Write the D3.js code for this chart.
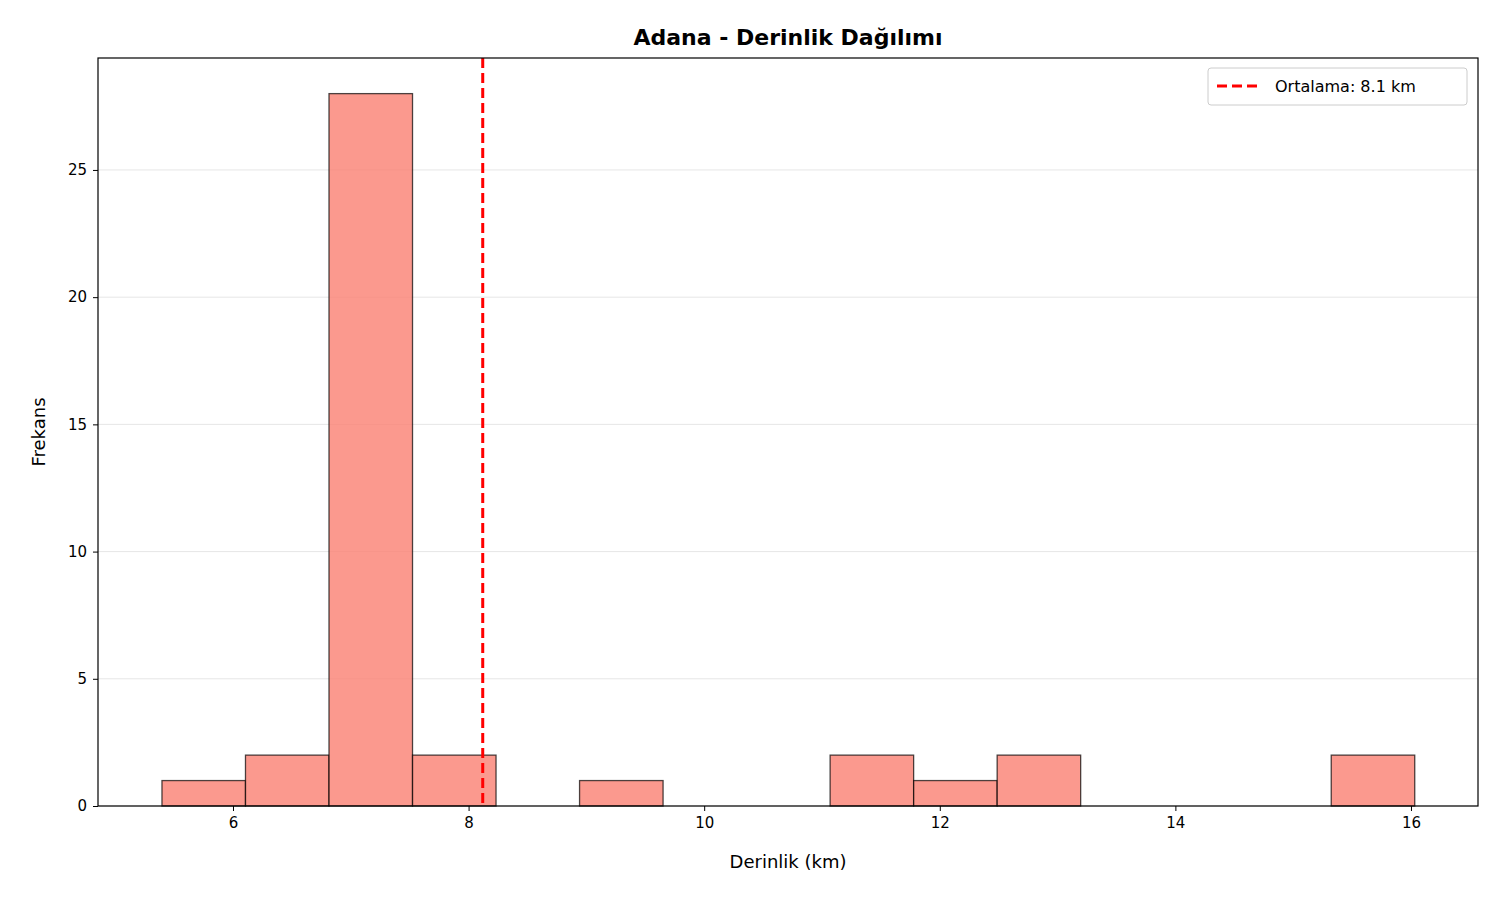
<!DOCTYPE html>
<html><head><meta charset="utf-8">
<script src="https://cdn.jsdelivr.net/npm/d3@7"></script>
<style>body{margin:0;background:#fff}text{font-family:"DejaVu Sans",sans-serif}</style>
</head><body><svg id="c" width="1500" height="900"></svg>
<script>
const binStart = 5.397, binWidth = 0.709;
const counts = [1,2,28,2,0,1,0,0,2,1,2,0,0,0,2];
const meanDepth = 8.12;
const xTicks = [6,8,10,12,14,16];
const yTicks = [0,5,10,15,20,25];

const svg = d3.select("#c");
const L=98,R=1478,T=58,B=806;
const x = d3.scaleLinear().domain([4.854,16.569]).range([L,R]);
const y = d3.scaleLinear().domain([0,29.4]).range([B,T]);

svg.append("g").selectAll("line").data(yTicks).join("line")
  .attr("x1",L).attr("x2",R).attr("y1",d=>y(d)).attr("y2",d=>y(d))
  .attr("stroke","#000").attr("stroke-opacity",0.1).attr("stroke-width",1);

svg.append("g").selectAll("rect").data(counts).join("rect")
  .attr("x",(d,i)=>x(binStart+i*binWidth))
  .attr("width",(d,i)=>x(binStart+(i+1)*binWidth)-x(binStart+i*binWidth))
  .attr("y",d=>y(d)).attr("height",d=>y(0)-y(d))
  .attr("fill","#FA8072").attr("fill-opacity",0.8)
  .attr("stroke","#000").attr("stroke-opacity",0.7).attr("stroke-width",1.3);

svg.append("line").attr("x1",x(meanDepth)).attr("x2",x(meanDepth)).attr("y1",T).attr("y2",B)
  .attr("stroke","red").attr("stroke-width",3).attr("stroke-dasharray","10,5");

const xa = svg.append("g").attr("transform",`translate(0,${B})`).call(d3.axisBottom(x).tickValues(xTicks).tickSize(5).tickPadding(6));
const ya = svg.append("g").attr("transform",`translate(${L},0)`).call(d3.axisLeft(y).tickValues(yTicks).tickSize(5).tickPadding(6));
[xa,ya].forEach(a=>{a.select(".domain").remove();a.selectAll("text").attr("font-size",15).attr("font-family","DejaVu Sans").attr("fill","#000");a.selectAll("line").attr("stroke","#000");});

svg.append("rect").attr("x",L).attr("y",T).attr("width",R-L).attr("height",B-T).attr("fill","none").attr("stroke","#000").attr("stroke-width",1.2);

svg.append("text").attr("x",(L+R)/2).attr("y",45).attr("text-anchor","middle").attr("font-size",22).attr("font-weight","bold").text("Adana - Derinlik Dağılımı");
svg.append("text").attr("x",(L+R)/2).attr("y",868).attr("text-anchor","middle").attr("font-size",18).text("Derinlik (km)");
svg.append("text").attr("transform","translate(45,432) rotate(-90)").attr("text-anchor","middle").attr("font-size",18).text("Frekans");

const lg = svg.append("g");
lg.append("rect").attr("x",1208).attr("y",68).attr("width",259).attr("height",37).attr("rx",3).attr("fill","#fff").attr("fill-opacity",0.8).attr("stroke","#ccc");
lg.append("line").attr("x1",1217).attr("x2",1257).attr("y1",86).attr("y2",86).attr("stroke","red").attr("stroke-width",3).attr("stroke-dasharray","10,5");
lg.append("text").attr("x",1275).attr("y",92).attr("font-size",16).text("Ortalama: "+meanDepth.toFixed(1)+" km");
</script></body></html>
